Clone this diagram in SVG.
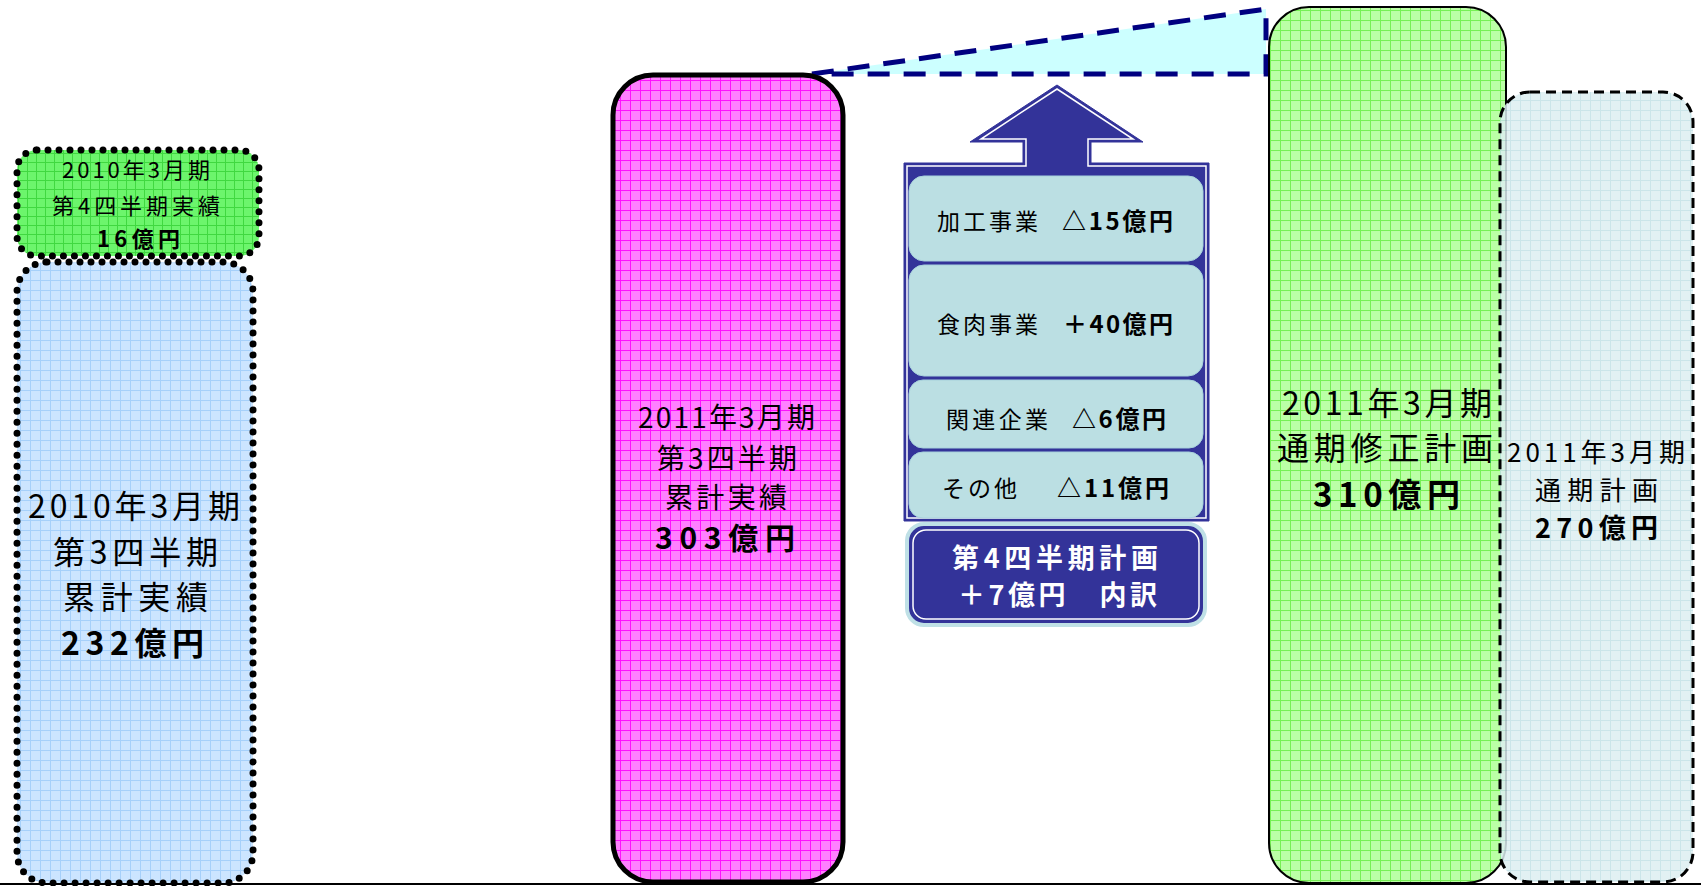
<svg xmlns="http://www.w3.org/2000/svg" width="1701" height="886" viewBox="0 0 1701 886">
<style>
.t{font-family:"Noto Sans CJK JP","Noto Sans",sans-serif;fill:#000;}
.b{font-weight:bold;}
.w{fill:#fff;font-weight:bold;}
.dot{stroke:#000;stroke-width:7;stroke-dasharray:0 11;stroke-linecap:round;}
.row{fill:#BBDFE3;stroke:#A8D2DC;stroke-width:1;}
</style>
<defs>
<pattern id="pPink" width="10" height="10" patternUnits="userSpaceOnUse">
<rect width="10" height="10" fill="#FF80FF"/><path d="M0 0.5H10M0.5 0V10" stroke="#FF10FF" stroke-width="1"/></pattern>
<pattern id="pGreenS" width="9" height="9" patternUnits="userSpaceOnUse">
<rect width="9" height="9" fill="#6CF56C"/><path d="M0 0.5H9M0.5 0V9" stroke="#40D840" stroke-width="1"/></pattern>
<pattern id="pBlue" width="10" height="10" patternUnits="userSpaceOnUse">
<rect width="10" height="10" fill="#CCE5FF"/><path d="M0 0.5H10M0.5 0V10" stroke="#A6D0FA" stroke-width="1"/></pattern>
<pattern id="pGreenT" width="10" height="10" patternUnits="userSpaceOnUse">
<rect width="10" height="10" fill="#BBFFA6"/><path d="M0 0.5H10M0.5 0V10" stroke="#77F055" stroke-width="1"/></pattern>
<pattern id="pLB" width="10" height="10" patternUnits="userSpaceOnUse">
<rect width="10" height="10" fill="#DDEEF1"/><path d="M0 0.5H10M0.5 0V10" stroke="#C2E1E5" stroke-width="1"/></pattern>
</defs>
<rect width="1701" height="886" fill="#fff"/>

<g id="connectors">
<polygon points="812,74 1266,9 1266,74" fill="#CCFFFF" stroke="#000080" stroke-width="5" stroke-dasharray="22 14"/>
<line x1="0" y1="884" x2="1701" y2="884" stroke="#000" stroke-width="2"/>
</g>

<g id="node-2010q4">
<rect x="17" y="150" width="242" height="106" rx="20" fill="url(#pGreenS)" class="dot"/>
<text class="t" x="62" y="178" font-size="22" textLength="148" lengthAdjust="spacing">2010年3月期</text>
<text class="t" x="52" y="214" font-size="22" textLength="168" lengthAdjust="spacing">第4四半期実績</text>
<text class="t b" x="97" y="247" font-size="22" textLength="83" lengthAdjust="spacing">16億円</text>
</g>

<g id="node-2010q3">
<rect x="17" y="262" width="236" height="621" rx="30" fill="url(#pBlue)" class="dot"/>
<text class="t" x="28" y="518" font-size="32" textLength="212" lengthAdjust="spacing">2010年3月期</text>
<text class="t" x="53" y="564" font-size="32" textLength="165" lengthAdjust="spacing">第3四半期</text>
<text class="t" x="63" y="609" font-size="32" textLength="145" lengthAdjust="spacing">累計実績</text>
<text class="t b" x="61" y="655" font-size="32" textLength="143" lengthAdjust="spacing">232億円</text>
</g>

<g id="node-2011q3">
<rect x="613" y="75" width="230" height="807" rx="40" fill="url(#pPink)" stroke="#000" stroke-width="5"/>
<text class="t" x="638" y="428" font-size="28" textLength="177" lengthAdjust="spacing">2011年3月期</text>
<text class="t" x="657" y="469" font-size="28" textLength="140" lengthAdjust="spacing">第3四半期</text>
<text class="t" x="665" y="508" font-size="28" textLength="122" lengthAdjust="spacing">累計実績</text>
<text class="t b" x="655" y="549" font-size="30" textLength="140" lengthAdjust="spacing">303億円</text>
</g>

<g id="node-breakdown">
<polygon points="1057,85 1143,142 1091,142 1091,163 1209,163 1209,521 904,521 904,163 1023,163 1023,142 970,142" fill="#333399" stroke="#333399" stroke-width="1"/>
<polygon points="1057,89 1133,139 1088,139 1088,166 1206,166 1206,518 907,518 907,166 1026,166 1026,139 981,139" fill="none" stroke="#fff" stroke-width="1.5"/>
<rect class="row" x="909" y="176" width="294" height="85" rx="15"/>
<rect class="row" x="909" y="265" width="294" height="111" rx="15"/>
<rect class="row" x="909" y="380" width="294" height="68" rx="14"/>
<rect class="row" x="909" y="452" width="294" height="66" rx="14"/>
<text class="t" x="937" y="230" font-size="23" textLength="101" lengthAdjust="spacing">加工事業</text>
<text class="t b" x="1062" y="230" font-size="24" textLength="111" lengthAdjust="spacing">△15億円</text>
<text class="t" x="937" y="333" font-size="23" textLength="101" lengthAdjust="spacing">食肉事業</text>
<text class="t b" x="1063" y="333" font-size="24" textLength="110" lengthAdjust="spacing">＋40億円</text>
<text class="t" x="946" y="428" font-size="23" textLength="102" lengthAdjust="spacing">関連企業</text>
<text class="t b" x="1072" y="428" font-size="24" textLength="94" lengthAdjust="spacing">△6億円</text>
<text class="t" x="942" y="497" font-size="23" textLength="75" lengthAdjust="spacing">その他</text>
<text class="t b" x="1057" y="497" font-size="24" textLength="112" lengthAdjust="spacing">△11億円</text>
</g>

<g id="node-q4plan">
<rect x="907" y="524" width="298" height="101" rx="17" fill="#333399" stroke="#BFE0E6" stroke-width="4"/>
<rect x="913" y="530" width="286" height="89" rx="13" fill="none" stroke="#fff" stroke-width="1.5"/>
<text class="t w" x="952" y="568" font-size="27" textLength="206" lengthAdjust="spacing">第4四半期計画</text>
<text class="t w" x="958" y="605" font-size="27" textLength="199" lengthAdjust="spacing">＋7億円　内訳</text>
</g>

<g id="node-revised">
<rect x="1269" y="7" width="237" height="876" rx="40" fill="url(#pGreenT)" stroke="#000" stroke-width="2"/>
<text class="t" x="1282" y="415" font-size="32" textLength="210" lengthAdjust="spacing">2011年3月期</text>
<text class="t" x="1277" y="460" font-size="32" textLength="216" lengthAdjust="spacing">通期修正計画</text>
<text class="t b" x="1313" y="507" font-size="33" textLength="147" lengthAdjust="spacing">310億円</text>
</g>

<g id="node-plan">
<rect x="1500" y="92" width="193" height="790" rx="30" fill="url(#pLB)" fill-opacity="0.85" stroke="#000" stroke-width="3" stroke-dasharray="10 6"/>
<text class="t" x="1507" y="462" font-size="26" textLength="178" lengthAdjust="spacing">2011年3月期</text>
<text class="t" x="1535" y="500" font-size="26" textLength="123" lengthAdjust="spacing">通期計画</text>
<text class="t b" x="1535" y="538" font-size="27" textLength="123" lengthAdjust="spacing">270億円</text>
</g>
</svg>
